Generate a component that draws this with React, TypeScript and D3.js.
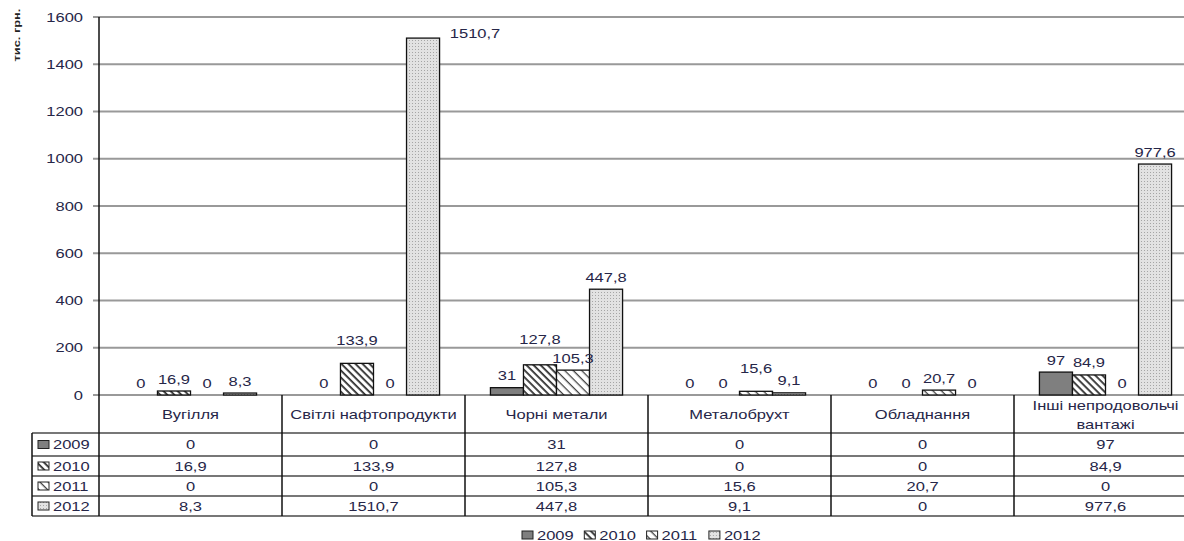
import React from "react";
import { scaleBand, scaleLinear } from "d3";

const categories = [
  "Вугілля",
  "Світлі нафтопродукти",
  "Чорні метали",
  "Металобрухт",
  "Обладнання",
  "Інші непродовольчі вантажі",
];
const years = ["2009", "2010", "2011", "2012"];
const v2009 = [0, 0, 31, 0, 0, 97];
const v2010 = [16.9, 133.9, 127.8, 0, 0, 84.9];
const v2011 = [0, 0, 105.3, 15.6, 20.7, 0];
const v2012 = [8.3, 1510.7, 447.8, 9.1, 0, 977.6];
const yTicks = [0, 200, 400, 600, 800, 1000, 1200, 1400, 1600];
const series = [v2009, v2010, v2011, v2012];

// Excel moved a few labels to avoid overlaps
const labelShift: Record<string, { dx: number; dy: number }> = {
  "1|1": { dx: 0, dy: -11 },
  "1|3": { dx: 52, dy: 7 },
  "2|1": { dx: 0, dy: -13 },
  "3|2": { dx: 0, dy: -11 },
};

const W = 1184;
const H = 541;
const left = 99;
const right = 1197; // the last column runs off the picture
const top = 17;
const base = 395;
const rowLines = [433, 456, 476, 496, 516];
const ink = "#262648";
const fills = ["#7f7f7f", "url(#p2010)", "url(#p2011)", "url(#p2012)"];

const fmt = (v: number) => String(v).replace(".", ",");

const T = ({ x, y, anchor = "middle", size = 13, weight = "normal", children }: any) => (
  <text
    transform={`translate(${x},${y}) scale(1.27,1)`}
    textAnchor={anchor}
    fontSize={size}
    fontWeight={weight}
    fill={ink}
  >
    {children}
  </text>
);

const App = () => {
  const x0 = scaleBand<number>().domain(categories.map((_, i) => i)).range([left, right]);
  const x1 = scaleBand<number>()
    .domain(years.map((_, i) => i))
    .range([0, x0.bandwidth()])
    .paddingOuter(0.77);
  const y = scaleLinear().domain([0, 1600]).range([base, top]);
  const bw = x1.bandwidth();

  return (
    <svg
      width={W}
      height={H}
      style={{ position: "absolute", left: 0, top: 0, overflow: "hidden", background: "#fff" }}
      fontFamily="'Liberation Sans', Arial, sans-serif"
    >
      <defs>
        <pattern id="p2010" width="4" height="5" patternUnits="userSpaceOnUse" patternTransform="rotate(45)">
          <rect width="4" height="5" fill="#fff" />
          <rect width="4" height="1.8" fill="#333" />
        </pattern>
        <pattern id="p2011" width="4" height="6" patternUnits="userSpaceOnUse" patternTransform="rotate(45)">
          <rect width="4" height="6" fill="#fff" />
          <rect width="4" height="1.3" fill="#444" />
        </pattern>
        <pattern id="p2012" width="3" height="3" patternUnits="userSpaceOnUse">
          <rect width="3" height="3" fill="#e2e2e2" />
          <rect x="1" y="1" width="1" height="1" fill="#a5a5a5" />
        </pattern>
      </defs>

      {/* y title */}
      <g transform="translate(20,35) rotate(-90)">
        <text transform="scale(1.35,1)" textAnchor="middle" fontSize={9.5} fontWeight="bold" fill="#222">
          тис. грн.
        </text>
      </g>

      {/* grid + ticks */}
      {yTicks.map((t) => (
        <g key={t}>
          <line x1={93} x2={right} y1={y(t)} y2={y(t)} stroke="#999" strokeWidth={2} />
          <T x={83} y={y(t) + 4.6} anchor="end">{t}</T>
        </g>
      ))}

      {/* bars */}
      {series.map((vals, s) =>
        vals.map((v, c) =>
          v > 0 ? (
            <rect
              key={`${s}-${c}`}
              x={(x0(c) ?? 0) + (x1(s) ?? 0)}
              y={y(v)}
              width={bw}
              height={base - y(v)}
              fill={fills[s]}
              stroke="#111"
              strokeWidth={1.3}
            />
          ) : null
        )
      )}

      {/* value labels */}
      {series.map((vals, s) =>
        vals.map((v, c) => {
          const sh = labelShift[`${c}|${s}`] || { dx: 0, dy: 0 };
          return (
            <T
              key={`l${s}-${c}`}
              x={(x0(c) ?? 0) + (x1(s) ?? 0) + bw / 2 + sh.dx}
              y={y(v) - 7.5 + sh.dy}
            >
              {fmt(v)}
            </T>
          );
        })
      )}

      {/* data table */}
      {rowLines.map((ry) => (
        <line key={ry} x1={32} x2={right} y1={ry} y2={ry} stroke="#777" strokeWidth={2} />
      ))}
      <line x1={32} x2={32} y1={rowLines[0]} y2={rowLines[4]} stroke="#111" strokeWidth={1.5} />
      <line x1={left} x2={left} y1={top} y2={rowLines[4]} stroke="#111" strokeWidth={1.5} />
      {categories.map((_, c) =>
        c > 0 ? (
          <line
            key={`v${c}`}
            x1={x0(c)}
            x2={x0(c)}
            y1={base}
            y2={rowLines[4]}
            stroke="#111"
            strokeWidth={1.5}
          />
        ) : null
      )}
      {categories.map((name, c) => {
        const cx = (x0(c) ?? 0) + x0.bandwidth() / 2;
        if (name.length > 22) {
          const k = name.lastIndexOf(" ");
          return (
            <g key={`h${c}`}>
              <T x={cx} y={409.5}>{name.slice(0, k)}</T>
              <T x={cx} y={428.5}>{name.slice(k + 1)}</T>
            </g>
          );
        }
        return <T key={`h${c}`} x={cx} y={418.5}>{name}</T>;
      })}
      {years.map((yr, s) => {
        const cy = (rowLines[s] + rowLines[s + 1]) / 2;
        return (
          <g key={yr}>
            <rect x={38} y={cy - 4} width={11} height={8} fill={fills[s]} stroke="#222" strokeWidth={1} />
            <T x={53} y={cy + 4.6} anchor="start">{yr}</T>
            {series[s].map((v, c) => (
              <T key={c} x={(x0(c) ?? 0) + x0.bandwidth() / 2} y={cy + 4.6}>
                {fmt(v)}
              </T>
            ))}
          </g>
        );
      })}

      {/* legend */}
      {years.map((yr, s) => (
        <g key={`lg${yr}`} transform={`translate(${522 + s * 62.3},0)`}>
          <rect x={0} y={531} width={11} height={8} fill={fills[s]} stroke="#222" strokeWidth={1} />
          <T x={15} y={539.5} anchor="start">{yr}</T>
        </g>
      ))}
    </svg>
  );
};

export default App;
